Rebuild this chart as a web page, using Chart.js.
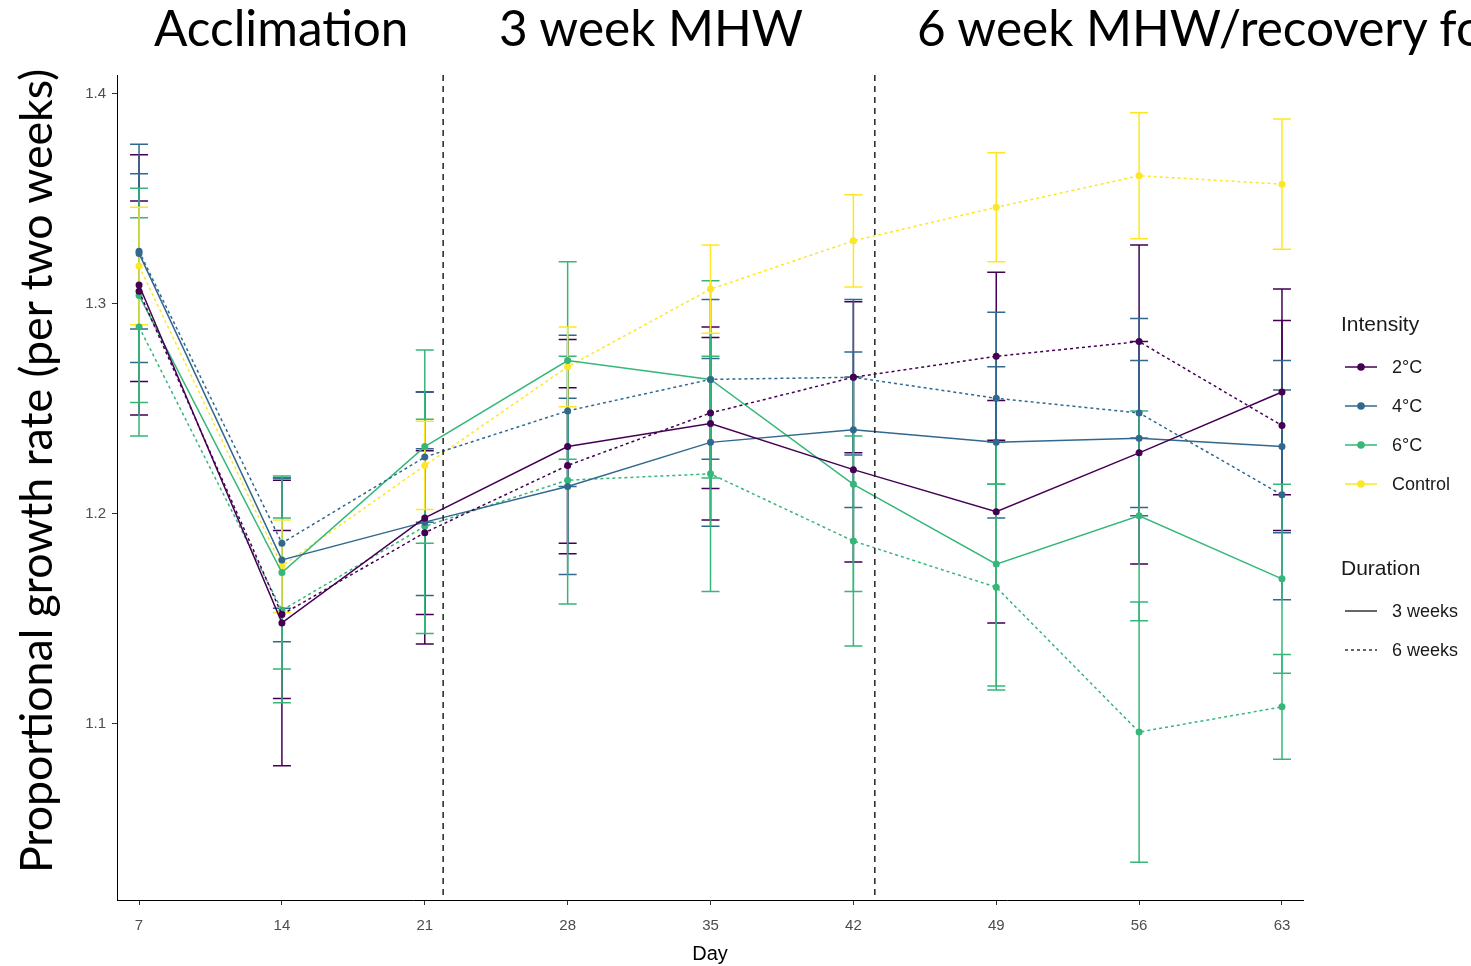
<!DOCTYPE html>
<html>
<head>
<meta charset="utf-8">
<script src="https://cdn.jsdelivr.net/npm/chart.js@4.4.1/dist/chart.umd.min.js"></script>
<style>
  html, body { margin: 0; padding: 0; background: #fff; overflow: hidden; }
  #wrap { position: relative; width: 1471px; height: 966px; overflow: hidden; }
  #growthChart { position: absolute; left: 0; top: 0; }
  .phase { position: absolute; top: -2px; font-family: Lato, "Open Sans", sans-serif; font-size: 49.5px; line-height: 58px; color: #000; white-space: nowrap; }
  #ytitle { position: absolute; left: -375px; top: 443px; width: 820px; height: 56px; line-height: 56px; text-align: center;
            font-family: Lato, "Open Sans", sans-serif; font-size: 44.7px; color: #000; transform: rotate(-90deg); white-space: nowrap; }
  .lg { position: absolute; font-family: "Liberation Sans", Arial, sans-serif; color: #1a1a1a; white-space: nowrap; }
  .lg-title { font-size: 21px; line-height: 24px; }
  .lg-item { font-size: 18px; line-height: 22px; }
</style>
</head>
<body>
<div id="wrap">
  <canvas id="growthChart" width="1471" height="966"></canvas>
  <div class="phase" style="left:154px">Acclimation</div>
  <div class="phase" style="left:499px">3 week MHW</div>
  <div class="phase" style="left:917px">6 week MHW/recovery for</div>
  <div id="ytitle">Proportional growth rate (per two weeks)</div>
  <div id="legend"></div>
</div>
<script>
// sampling days and axis ticks
const days = [7, 14, 21, 28, 35, 42, 49, 56, 63];
const dayTicks = [7, 14, 21, 28, 35, 42, 49, 56, 63];
const rateTicks = [1.1, 1.2, 1.3, 1.4];
const phaseBreaks = [21.9, 43.05];

// mean growth rate and standard error per treatment
const t2_3w    = [1.309, 1.148, 1.198, 1.232, 1.243, 1.221, 1.201, 1.229, 1.258];
const t2_3w_se = [0.062, 0.068, 0.060, 0.051, 0.046, 0.044, 0.053, 0.053, 0.049];
const t2_6w    = [1.306, 1.152, 1.191, 1.223, 1.248, 1.265, 1.275, 1.282, 1.242];
const t2_6w_se = [0.043, 0.040, 0.039, 0.037, 0.036, 0.036, 0.040, 0.046, 0.050];
const t4_3w    = [1.324, 1.178, 1.196, 1.213, 1.234, 1.240, 1.234, 1.236, 1.232];
const t4_3w_se = [0.052, 0.039, 0.035, 0.042, 0.040, 0.037, 0.036, 0.037, 0.041];
const t4_6w    = [1.325, 1.186, 1.227, 1.249, 1.264, 1.265, 1.255, 1.248, 1.209];
const t4_6w_se = [0.037, 0.031, 0.031, 0.036, 0.038, 0.037, 0.041, 0.045, 0.050];
const t6_3w    = [1.304, 1.172, 1.232, 1.273, 1.264, 1.214, 1.176, 1.199, 1.169];
const t6_3w_se = [0.051, 0.046, 0.046, 0.047, 0.047, 0.051, 0.058, 0.050, 0.045];
const t6_6w    = [1.289, 1.154, 1.194, 1.216, 1.219, 1.187, 1.165, 1.096, 1.108];
const t6_6w_se = [0.052, 0.044, 0.051, 0.059, 0.056, 0.050, 0.049, 0.062, 0.025];
const ctrl     = [1.318, 1.175, 1.223, 1.270, 1.307, 1.330, 1.346, 1.361, 1.357];
const ctrl_se  = [0.028, 0.022, 0.021, 0.019, 0.021, 0.022, 0.026, 0.030, 0.031];

const intensityNames = ['2°C', '4°C', '6°C', 'Control'];
const intensityColors = ['#440154', '#31688E', '#35B779', '#FDE725'];
const durationNames = ['3 weeks', '6 weeks'];

const seriesList = [
    { label: '2°C, 3 weeks', values: t2_3w, se: t2_3w_se, color: intensityColors[0], dotted: false },
    { label: '2°C, 6 weeks', values: t2_6w, se: t2_6w_se, color: intensityColors[0], dotted: true },
    { label: '4°C, 3 weeks', values: t4_3w, se: t4_3w_se, color: intensityColors[1], dotted: false },
    { label: '4°C, 6 weeks', values: t4_6w, se: t4_6w_se, color: intensityColors[1], dotted: true },
    { label: '6°C, 3 weeks', values: t6_3w, se: t6_3w_se, color: intensityColors[2], dotted: false },
    { label: '6°C, 6 weeks', values: t6_6w, se: t6_6w_se, color: intensityColors[2], dotted: true },
    { label: 'Control', values: ctrl, se: ctrl_se, color: intensityColors[3], dotted: true }
];

const datasets = seriesList.map(s => ({
    label: s.label,
    data: days.map((d, i) => ({ x: d, y: s.values[i] })),
    se: s.se,
    borderColor: s.color,
    backgroundColor: s.color,
    borderWidth: 1.5,
    borderDash: s.dotted ? [3, 3] : [],
    pointRadius: 3.5,
    pointBorderWidth: 0,
    pointBackgroundColor: s.color,
    tension: 0
}));

// error bars (mean +/- se), drawn under lines and points
const errorBars = {
    id: 'errorBars',
    beforeDatasetsDraw(chart) {
        const ctx = chart.ctx, xs = chart.scales.x, ys = chart.scales.y;
        ctx.save();
        ctx.lineWidth = 1.5;
        chart.data.datasets.forEach(ds => {
            ctx.strokeStyle = ds.borderColor;
            ds.data.forEach((p, i) => {
                const px = xs.getPixelForValue(p.x);
                const top = ys.getPixelForValue(p.y + ds.se[i]);
                const bot = ys.getPixelForValue(p.y - ds.se[i]);
                ctx.beginPath();
                ctx.moveTo(px, top); ctx.lineTo(px, bot);
                ctx.moveTo(px - 9, top); ctx.lineTo(px + 9, top);
                ctx.moveTo(px - 9, bot); ctx.lineTo(px + 9, bot);
                ctx.stroke();
            });
        });
        ctx.restore();
    }
};

// dashed lines between experiment phases
const phaseLines = {
    id: 'phaseLines',
    afterDatasetsDraw(chart) {
        const ctx = chart.ctx, area = chart.chartArea, xs = chart.scales.x;
        ctx.save();
        ctx.strokeStyle = '#222';
        ctx.lineWidth = 1.5;
        ctx.setLineDash([6, 5]);
        phaseBreaks.forEach(v => {
            const px = xs.getPixelForValue(v);
            ctx.beginPath();
            ctx.moveTo(px, area.top);
            ctx.lineTo(px, area.bottom);
            ctx.stroke();
        });
        ctx.restore();
    }
};

const tickFont = { family: '"Liberation Sans", Arial, sans-serif', size: 15 };

new Chart(document.getElementById('growthChart').getContext('2d'), {
    type: 'line',
    data: { datasets: datasets },
    options: {
        responsive: false,
        animation: false,
        devicePixelRatio: 1,
        layout: { padding: { top: 75, right: 168, left: 0, bottom: 0 } },
        plugins: { legend: { display: false }, tooltip: { enabled: false } },
        scales: {
            x: {
                type: 'linear',
                min: 5.92,
                max: 64.03,
                afterBuildTicks: axis => { axis.ticks = dayTicks.map(v => ({ value: v })); },
                afterFit: axis => { axis.height = 66; },
                ticks: { color: '#4d4d4d', font: tickFont, padding: 12, autoSkip: false, maxRotation: 0 },
                grid: { drawOnChartArea: false, drawTicks: true, tickLength: 5, color: '#333', lineWidth: 1 },
                border: { display: true, color: '#000', width: 1 },
                title: { display: true, text: 'Day', color: '#000', font: { family: '"Liberation Sans", Arial, sans-serif', size: 20 }, padding: { top: 5, bottom: 0 } }
            },
            y: {
                type: 'linear',
                min: 1.016,
                max: 1.409,
                afterBuildTicks: axis => { axis.ticks = rateTicks.map(v => ({ value: v })); },
                afterFit: axis => { axis.width = 117; },
                ticks: { color: '#4d4d4d', font: tickFont, padding: 6, autoSkip: false, callback: v => v.toFixed(1) },
                grid: { drawOnChartArea: false, drawTicks: true, tickLength: 5, color: '#333', lineWidth: 1 },
                border: { display: true, color: '#000', width: 1 }
            }
        }
    },
    plugins: [errorBars, phaseLines]
});

// legend built from the series names and colours
const legend = document.getElementById('legend');
function addText(cls, text, left, centerY, h) {
    const el = document.createElement('div');
    el.className = 'lg ' + cls;
    el.style.left = left + 'px';
    el.style.top = (centerY - h / 2) + 'px';
    el.textContent = text;
    legend.appendChild(el);
}
function addKey(centerY, color, dotted, dot) {
    const ns = 'http://www.w3.org/2000/svg';
    const svg = document.createElementNS(ns, 'svg');
    svg.setAttribute('width', '36');
    svg.setAttribute('height', '12');
    svg.style.position = 'absolute';
    svg.style.left = '1343px';
    svg.style.top = (centerY - 6) + 'px';
    const line = document.createElementNS(ns, 'line');
    line.setAttribute('x1', '2'); line.setAttribute('x2', '34');
    line.setAttribute('y1', '6'); line.setAttribute('y2', '6');
    line.setAttribute('stroke', color);
    line.setAttribute('stroke-width', '1.5');
    if (dotted) line.setAttribute('stroke-dasharray', '3 3');
    svg.appendChild(line);
    if (dot) {
        const c = document.createElementNS(ns, 'circle');
        c.setAttribute('cx', '18'); c.setAttribute('cy', '6'); c.setAttribute('r', '3.8');
        c.setAttribute('fill', color);
        svg.appendChild(c);
    }
    legend.appendChild(svg);
}
addText('lg-title', 'Intensity', 1341, 324, 24);
intensityNames.forEach((name, i) => {
    const cy = 367 + i * 39;
    addKey(cy, intensityColors[i], false, true);
    addText('lg-item', name, 1392, cy, 22);
});
addText('lg-title', 'Duration', 1341, 568, 24);
durationNames.forEach((name, i) => {
    const cy = 611 + i * 39;
    addKey(cy, '#333', i === 1, false);
    addText('lg-item', name, 1392, cy, 22);
});
</script>
</body>
</html>
